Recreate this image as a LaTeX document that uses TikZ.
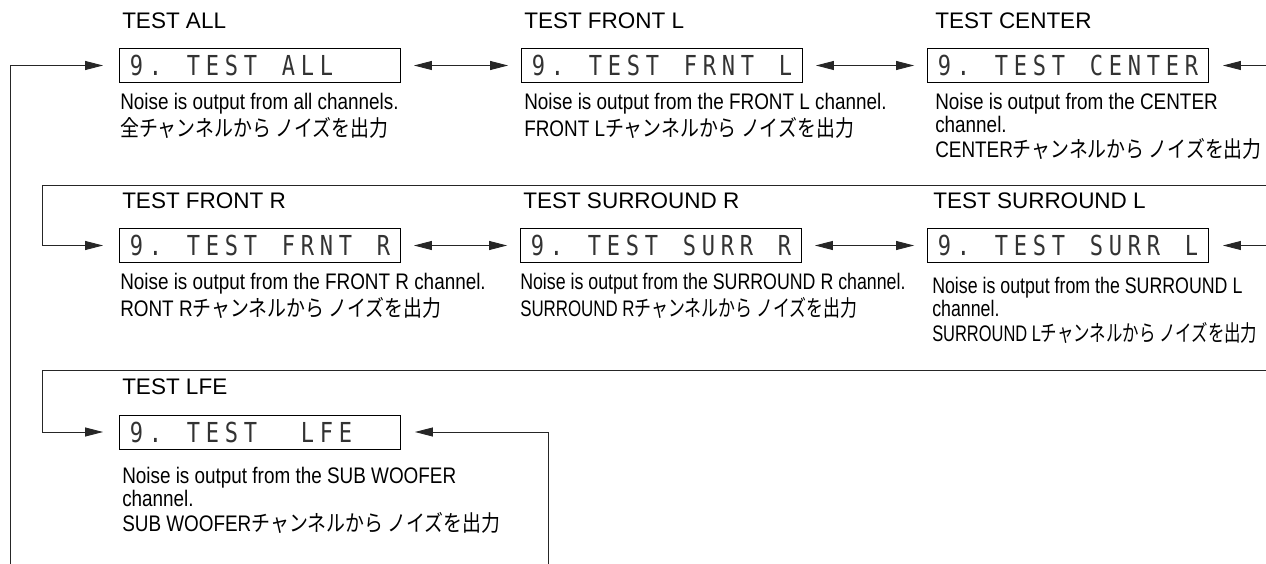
\documentclass[tikz,border=0pt]{standalone}
\usepackage{graphicx}
\usepackage{fontspec}
\setmainfont{Liberation Sans}
\newfontfamily\descfont[FakeStretch=0.84]{Liberation Sans}
\newfontfamily\descfontn[FakeStretch=0.79]{Liberation Sans}
\newfontfamily\jpfont[FakeStretch=0.84]{Noto Sans CJK JP}
\newfontfamily\jpfontn[FakeStretch=0.79]{Noto Sans CJK JP}
\newfontfamily\lcdfont[FakeStretch=0.8]{DejaVu Sans Mono}
\usepackage{tikz}
\usetikzlibrary{
  arrows.meta,
  positioning
}
\newcommand\jp[1]{{\jpfont #1}}
\newcommand\jpn[1]{{\jpfontn #1}}
% one display cell per character, ~ is a blank cell
\newcommand\lcdcells[1]{\lcdloop#1\relax\hspace{4pt}}
\def\lcdloop#1{\ifx\relax#1\else\makebox[19pt][c]{#1}\expandafter\lcdloop\fi}
\tikzset{
  lcdbox/.style = {
    rectangle, draw=black, line width=0.9pt,
    minimum width=281pt, minimum height=34pt, inner sep=0pt,
    font=\lcdfont\fontsize{27.5}{27.5}\selectfont, text=black!80
  },
  ttl/.style  = {anchor=base west, inner sep=0pt, font=\fontsize{22.5}{24}\selectfont},
  desc/.style = {
    inner sep=0pt, align=left,
    font=\descfont\fontsize{22.5}{23}\selectfont
  },
  descn/.style = {desc, font=\descfontn\fontsize{22.5}{23}\selectfont},
  arr/.style  = {-{Triangle[length=18pt, width=9pt]}, draw=black!85,
    line width=0.9pt, shorten >=14pt},
  arrboth/.style = {{Triangle[length=18pt, width=9pt]}-{Triangle[length=18pt, width=9pt]},
    draw=black!85, line width=0.9pt, shorten >=13pt, shorten <=13pt},
}

\begin{document}
\begin{tikzpicture}[x=1pt, y=-1pt]
  \path[fill=white, use as bounding box] (0,0) rectangle (1266,564);

  % row 1
  \node[lcdbox] (all)    at (260,65.5)  {\lcdcells{9.~TEST~ALL~~~}};
  \node[lcdbox] (frontl) at (662,65.5)  {\lcdcells{9.~TEST~FRNT~L}};
  \node[lcdbox] (center) at (1068,65.5) {\lcdcells{9.~TEST~CENTER}};
  % row 2
  \node[lcdbox] (frontr) at (260,245.5)  {\lcdcells{9.~TEST~FRNT~R}};
  \node[lcdbox] (surrr)  at (661,245.5)  {\lcdcells{9.~TEST~SURR~R}};
  \node[lcdbox] (surrl)  at (1068,245.5) {\lcdcells{9.~TEST~SURR~L}};
  % row 3
  \node[lcdbox] (lfe)    at (260,432)    {\lcdcells{9.~TEST~~LFE~~}};

  \node[ttl] (tall)    at ([xshift=3pt, yshift=20pt]all.north west)    {TEST ALL};
  \node[ttl] (tfrontl) at ([xshift=3pt, yshift=20pt]frontl.north west) {TEST FRONT L};
  \node[ttl] (tcenter) at ([xshift=8pt, yshift=20pt]center.north west) {TEST CENTER};
  \node[ttl] (tfrontr) at ([xshift=3pt, yshift=20pt]frontr.north west) {TEST FRONT R};
  \node[ttl] (tsurrr)  at ([xshift=3pt, yshift=20pt]surrr.north west)  {TEST SURROUND R};
  \node[ttl] (tsurrl)  at ([xshift=6pt, yshift=20pt]surrl.north west)  {TEST SURROUND L};
  \node[ttl] (tlfe)    at ([xshift=3pt, yshift=20pt]lfe.north west)    {TEST LFE};

  \node[desc, below right=10pt and 1pt of all.south west] (dall)
    {Noise is output from all channels.\\[2pt]\jp{全チャンネルから ノイズを出力}};
  \node[desc, below right=10pt and 3pt of frontl.south west] (dfrontl)
    {Noise is output from the FRONT L channel.\\[2pt]FRONT L\jp{チャンネルから ノイズを出力}};
  \node[desc, below right=10pt and 8pt of center.south west] (dcenter)
    {Noise is output from the CENTER\\channel.\\[2pt]CENTER\jp{チャンネルから ノイズを出力}};
  \node[desc, below right=10pt and 1pt of frontr.south west] (dfrontr)
    {Noise is output from the FRONT R channel.\\[2pt]RONT R\jp{チャンネルから ノイズを出力}};
  \node[descn, below right=10pt and 0pt of surrr.south west] (dsurrr)
    {Noise is output from the SURROUND R channel.\\[2pt]\scalebox{0.95}[1]{SURROUND R\jpn{チャンネルから ノイズを出力}}};
  \node[descn, below right=14pt and 5pt of surrl.south west] (dsurrl)
    {Noise is output from the SURROUND L\\channel.\\[2pt]\scalebox{0.925}[1]{SURROUND L\jpn{チャンネルから ノイズを出力}}};
  \node[desc, below right=18pt and 3pt of lfe.south west] (dlfe)
    {Noise is output from the SUB WOOFER\\channel.\\[2pt]SUB WOOFER\jp{チャンネルから ノイズを出力}};

  % free ends at the page edges
  \coordinate (lbot)   at (10,564);
  \coordinate (rtop)   at (1266,65.5);
  \coordinate (wrapa)  at (1266,185);
  \coordinate (wrapb)  at (42,185);
  \coordinate (rmid)   at (1266,245.5);
  \coordinate (wrapc)  at (1266,370);
  \coordinate (wrapd)  at (42,370);
  \coordinate (lfebot) at (548,564);

  \draw[arr, shorten >=16pt] (lbot) |- (all.west);
  \draw[arrboth] (all) -- (frontl);
  \draw[arrboth] (frontl) -- (center);
  \draw[arr] (rtop) -- (center);
  \draw[arr, shorten >=16pt] (wrapa) -- (wrapb) |- (frontr.west);
  \draw[arrboth] (frontr) -- (surrr);
  \draw[arrboth] (surrr) -- (surrl);
  \draw[arr] (rmid) -- (surrl);
  \draw[arr, shorten >=16pt] (wrapc) -- (wrapd) |- (lfe.west);
  \draw[arr] (lfebot) |- (lfe.east);

\end{tikzpicture}
\end{document}
